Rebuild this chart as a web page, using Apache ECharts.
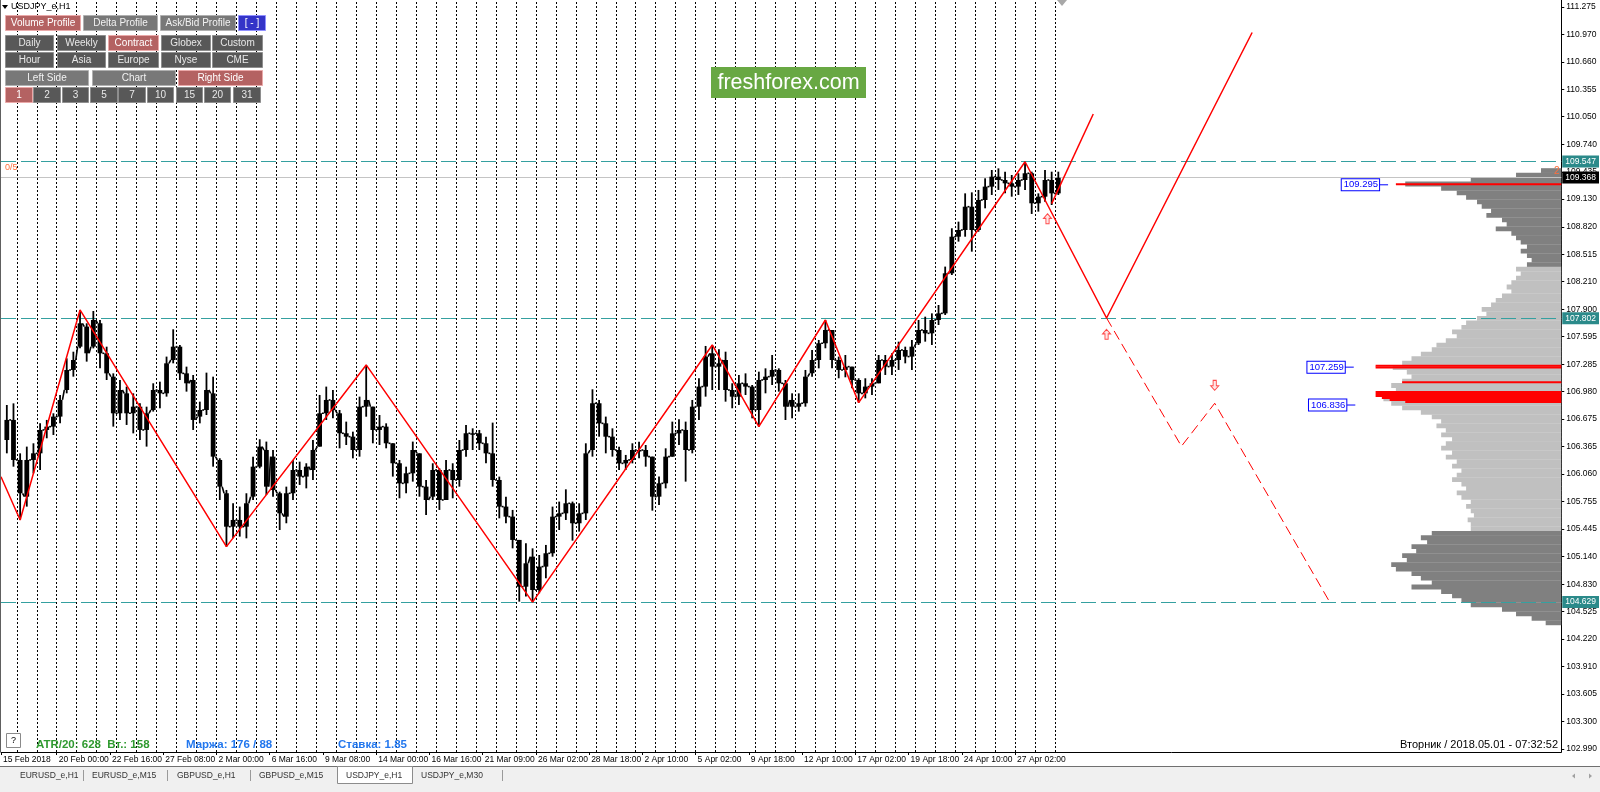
<!DOCTYPE html>
<html><head><meta charset="utf-8">
<script src="https://cdn.jsdelivr.net/npm/echarts@6.0.0/dist/echarts.min.js"></script>
<style>html,body{margin:0;padding:0;background:#fff;}#c{width:1600px;height:792px;}</style>
</head><body><div id="c"></div>
<script>
// ---------------- DATA ----------------
const priceTickLabels = ['102.990','103.300','103.605','103.910','104.220','104.525','104.830','105.140','105.445','105.755','106.060','106.365','106.675','106.980','107.285','107.595','107.900','108.210','108.515','108.820','109.130','109.435','109.740','110.050','110.355','110.660','110.970','111.275'];
const timeTickLabels = ['15 Feb 2018','20 Feb 00:00','22 Feb 16:00','27 Feb 08:00','2 Mar 00:00','6 Mar 16:00','9 Mar 08:00','14 Mar 00:00','16 Mar 16:00','21 Mar 09:00','26 Mar 02:00','28 Mar 18:00','2 Apr 10:00','5 Apr 02:00','9 Apr 18:00','12 Apr 10:00','17 Apr 02:00','19 Apr 18:00','24 Apr 10:00','27 Apr 02:00'];
const timeTickBars = [5,72,136,200,264,328,392,456,520,584,648,712,776,840,904,968,1032,1096,1160,1224];
const visibleBars = [5, 1880.6];
const tradingDays = 54;           // day separators every 24 bars
const barsPerDay = 24;

// candles: one candle per 8 H1 bars, first centred on bar 12
const firstSlotBar = 12, slotBars = 8;
const candleOpen = [106.440,106.664,106.217,105.807,106.217,106.291,106.552,106.589,106.701,106.998,
107.222,107.482,107.706,107.482,107.743,107.408,107.147,106.738,106.961,106.738,
106.812,106.552,106.775,106.998,106.961,107.333,107.482,107.184,107.110,106.701,
106.775,106.961,106.217,105.845,105.472,105.547,105.472,105.807,106.142,106.328,
106.254,105.845,105.584,105.845,106.105,106.031,106.105,106.366,106.738,106.887,
106.738,106.515,106.477,106.328,106.812,106.812,106.552,106.589,106.403,106.180,
105.956,106.068,106.291,105.919,105.807,106.105,105.770,106.105,105.993,106.328,
106.515,106.515,106.403,106.291,105.993,105.696,105.584,105.324,104.802,105.137,
104.765,105.026,105.175,105.584,105.621,105.733,105.510,105.621,106.328,106.850,
106.626,106.477,106.328,106.179,106.217,106.328,106.328,106.254,105.807,105.956,
106.254,106.514,106.552,106.328,106.812,107.036,107.408,107.259,107.333,106.998,
106.924,107.073,107.036,106.775,107.110,107.147,107.222,107.073,106.887,106.812,
106.850,107.185,107.333,107.520,107.668,107.333,107.222,107.259,107.110,106.961,
107.036,107.073,107.333,107.259,107.333,107.445,107.371,107.520,107.668,107.631,
107.780,107.854,108.301,108.710,108.785,109.045,108.785,109.120,109.269,109.380,
109.343,109.306,109.269,109.343,109.418,109.083,109.157,109.343,109.194];
const candleClose = [106.664,106.217,105.845,106.217,106.291,106.552,106.589,106.701,106.887,107.222,
107.333,107.743,107.408,107.780,107.408,107.184,106.738,106.998,106.738,106.812,
106.552,106.738,106.998,106.961,107.296,107.482,107.184,107.073,106.664,106.775,
106.998,106.254,105.919,105.472,105.547,105.472,105.733,106.142,106.366,105.919,
105.882,105.621,105.845,106.105,106.031,106.142,106.328,106.738,106.887,106.775,
106.515,106.477,106.328,106.812,106.887,106.552,106.589,106.403,106.180,105.956,
106.068,106.328,105.919,105.770,106.105,105.770,106.105,105.993,106.328,106.515,
106.515,106.403,106.291,105.993,105.696,105.584,105.324,104.802,105.063,104.765,
105.026,105.175,105.584,105.621,105.733,105.510,105.621,106.291,106.850,106.626,
106.477,106.328,106.179,106.217,106.328,106.328,106.254,105.807,105.956,106.254,
106.514,106.552,106.328,106.812,107.036,107.371,107.259,107.296,106.998,106.924,
107.073,107.036,106.775,107.110,107.147,107.222,107.073,106.812,106.812,106.850,
107.147,107.333,107.520,107.668,107.333,107.222,107.259,107.110,106.961,107.036,
107.073,107.333,107.259,107.333,107.445,107.371,107.482,107.668,107.631,107.780,
107.854,108.301,108.710,108.785,109.045,108.785,109.120,109.269,109.380,109.343,
109.306,109.269,109.343,109.418,109.083,109.157,109.343,109.194,109.368];
const candleLow = [106.291,106.142,105.547,105.696,106.068,106.105,106.459,106.496,106.626,106.961,
107.147,107.463,107.315,107.463,107.240,107.110,106.589,106.664,106.608,106.514,
106.440,106.366,106.757,106.794,106.924,107.296,107.110,106.980,106.552,106.626,
106.719,106.142,105.770,105.249,105.342,105.361,105.342,105.770,106.124,105.826,
105.807,105.435,105.510,105.770,105.938,105.900,105.993,106.366,106.663,106.682,
106.347,106.384,106.235,106.254,106.700,106.403,106.384,106.347,106.031,105.789,
105.845,105.975,105.807,105.603,105.770,105.659,105.770,105.789,105.919,106.254,
106.328,106.328,106.180,105.919,105.565,105.510,105.230,104.635,104.691,104.629,
104.728,104.896,105.137,105.435,105.547,105.316,105.417,105.547,106.254,106.477,
106.291,106.254,106.105,106.105,106.179,106.235,106.142,105.651,105.714,105.900,
106.254,106.384,105.975,106.291,106.663,106.924,106.998,106.998,106.868,106.794,
106.831,106.942,106.682,106.589,106.961,107.054,106.980,106.663,106.682,106.757,
106.812,107.147,107.240,107.464,107.240,107.129,107.140,107.017,106.857,106.905,
106.943,107.073,107.166,107.166,107.222,107.296,107.222,107.501,107.538,107.501,
107.724,107.836,108.282,108.655,108.710,108.543,108.766,109.027,109.176,109.232,
109.194,109.157,109.176,109.232,108.964,108.990,109.101,109.064,109.176];
const candleHigh = [106.831,106.849,106.291,106.366,106.403,106.626,106.664,106.738,106.943,107.352,
107.426,107.892,107.743,107.880,107.780,107.482,107.184,107.110,107.036,106.961,
106.849,106.812,107.073,107.091,107.371,107.676,107.501,107.259,107.166,106.868,
107.192,107.147,106.236,105.882,105.733,105.696,105.845,106.254,106.448,106.422,
106.328,105.863,105.919,106.217,106.198,106.180,106.440,106.943,107.036,106.998,
106.775,106.645,106.533,106.924,107.278,106.812,106.719,106.626,106.403,106.217,
106.142,106.422,106.291,105.993,106.180,106.124,106.217,106.180,106.440,106.608,
106.570,106.552,106.477,106.634,106.031,105.807,105.659,105.324,105.286,105.230,
105.156,105.268,105.696,105.752,105.889,105.752,105.733,106.403,107.006,106.887,
106.701,106.570,106.365,106.273,106.403,106.421,106.384,106.254,106.031,106.347,
106.645,106.671,106.645,106.887,107.129,107.490,107.501,107.452,107.426,107.073,
107.166,107.184,107.054,107.203,107.240,107.389,107.240,107.110,106.961,106.961,
107.222,107.445,107.557,107.780,107.668,107.371,107.389,107.259,107.129,107.129,
107.129,107.389,107.389,107.408,107.538,107.482,107.557,107.780,107.817,107.854,
107.947,108.376,108.804,108.878,109.194,109.205,109.232,109.362,109.455,109.473,
109.436,109.399,109.418,109.547,109.436,109.194,109.455,109.436,109.436];

// ZigZag vertices (bar index, price)
const zigzagBars   = [5, 28, 100, 276, 444, 644, 860, 916, 996, 1036, 1236];
const zigzagPrices = [106.03, 105.547, 107.892, 105.249, 107.278, 104.629, 107.501, 106.589, 107.780, 106.857, 109.547];
// projections
const projMainBars = [1236, 1334, 1509];
const projMainPrices = [109.547, 107.802, 110.99];
const projShortBars = [1268, 1318];
const projShortPrices = [109.08, 110.08];
const projDashBars = [1334, 1424, 1464, 1601];
const projDashPrices = [107.802, 106.37, 106.85, 104.65];
const upArrows = [[1263, 108.91], [1334, 107.62]];
const downArrows = [[1464, 107.05]];

// horizontal levels
const levelLabels = ['109.547', '107.802', '104.629'];
const bidLabel = '109.368';

// volume profile (price level, volume units)
const profileStep = 0.05;
const profilePrices = [109.45,109.40,109.35,109.30,109.25,109.20,109.15,109.10,109.05,109.00,108.95,108.90,108.85,108.80,108.75,108.70,108.65,108.60,108.55,108.50,108.45,108.40,108.35,108.30,108.25,108.20,108.15,108.10,108.05,108.00,107.95,107.90,107.85,107.80,107.75,107.70,107.65,107.60,107.55,107.50,107.45,107.40,107.35,107.30,107.25,107.20,107.15,107.10,107.05,107.00,106.95,106.90,106.85,106.80,106.75,106.70,106.65,106.60,106.55,106.50,106.45,106.40,106.35,106.30,106.25,106.20,106.15,106.10,106.05,106.00,105.95,105.90,105.85,105.80,105.75,105.70,105.65,105.60,105.55,105.50,105.45,105.40,105.35,105.30,105.25,105.20,105.15,105.10,105.05,105.00,104.95,104.90,104.85,104.80,104.75,104.70,104.65,104.60,104.55,104.50,104.45,104.40];
const profileVolumes = [13,29,58,100,77,67,61,54,51,45,48,38,35,42,32,29,26,22,26,22,19,22,29,26,29,32,35,32,38,42,45,51,48,54,61,64,70,67,74,80,83,90,96,102,108,99,96,102,109,106,112,114,109,102,90,83,77,80,74,77,70,74,77,70,74,67,70,64,67,70,64,61,67,64,58,61,58,56,60,58,58,83,90,86,96,93,102,99,109,106,96,90,83,96,77,70,64,58,38,29,19,10];
const valueAreaLow = 105.445, valueAreaHigh = 108.37;
const redLinePrices  = [109.295,107.270,107.250,107.085,106.975,106.953,106.931,106.909,106.887,106.865];
const redLineVolumes = [106,119,119,102,119,119,119,115,110,100];
const profileLabels = ['109.295', '107.259', '106.836'];
const profileLabelVolumes = [111, 133, 132];

// ---------------- CHART ----------------
const FONT = '"Liberation Sans", Arial, sans-serif';
const chart = echarts.init(document.getElementById('c'), null, {renderer: 'canvas'});

const candles = candleOpen.map((o, i) => [firstSlotBar + i * slotBars, o, candleClose[i], candleLow[i], candleHigh[i]]);
const zz = zigzagBars.map((b, i) => [b, zigzagPrices[i]]);
const projMain = projMainBars.map((b, i) => [b, projMainPrices[i]]);
const projShort = projShortBars.map((b, i) => [b, projShortPrices[i]]);
const projDash = projDashBars.map((b, i) => [b, projDashPrices[i]]);
const separators = [];
for (let d = 1; d < tradingDays; d++) separators.push({xAxis: d * barsPerDay});
const profileData = profilePrices.map((p, i) => [p, profileVolumes[i], (p > valueAreaHigh || p < valueAreaLow) ? 0 : 1]);
const redData = redLinePrices.map((p, i) => [p, redLineVolumes[i]]);
const labelData = profileLabels.map((t, i) => [Number(t), profileLabelVolumes[i]]);

// UI chrome (buttons etc.)
const btnStyles = {
  red:  {fill: '#b46262', stroke: '#eaa9a9', text: '#ffffff'},
  gray: {fill: '#787878', stroke: '#b0b0b0', text: '#f2f2f2'},
  dark: {fill: '#585858', stroke: '#8e8e8e', text: '#e8e8e8'},
  blue: {fill: '#3434c8', stroke: '#9090ff', text: '#ffffff'}
};
const buttons = [
  [5,15,75,15,'Volume Profile','red'],[83,15,74,15,'Delta Profile','gray'],[160,15,75,15,'Ask/Bid Profile','gray'],[238,15,27,15,'[ - ]','blue'],
  [5,35,48,15,'Daily','dark'],[57,35,48,15,'Weekly','dark'],[108,35,50,15,'Contract','red'],[161,35,49,15,'Globex','dark'],[212,35,50,15,'Custom','dark'],
  [5,52,48,15,'Hour','dark'],[57,52,48,15,'Asia','dark'],[108,52,50,15,'Europe','dark'],[161,52,49,15,'Nyse','dark'],[212,52,50,15,'CME','dark'],
  [5,70,83,15,'Left Side','gray'],[92,70,83,15,'Chart','gray'],[178,70,84,15,'Right Side','red'],
  [5,87,27,15,'1','red'],[33,87,27,15,'2','dark'],[62,87,26,15,'3','dark'],[90,87,27,15,'5','dark'],[118,87,27,15,'7','dark'],
  [147,87,26,15,'10','dark'],[176,87,26,15,'15','dark'],[204,87,26,15,'20','dark'],[233,87,27,15,'31','dark']
];
const graphics = [];
buttons.forEach(b => {
  const s = btnStyles[b[5]];
  graphics.push({type: 'rect', z: 100, shape: {x: b[0] + 0.5, y: b[1] + 0.5, width: b[2], height: b[3]}, style: {fill: s.fill, stroke: s.stroke, lineWidth: 1}});
  graphics.push({type: 'text', z: 101, x: b[0] + b[2] / 2 + 0.5, y: b[1] + b[3] / 2 + 1, style: {text: b[4], fill: s.text, font: '10px ' + FONT, align: 'center', verticalAlign: 'middle'}});
});
// title
graphics.push({type: 'polygon', z: 100, shape: {points: [[2, 5], [8, 5], [5, 9]]}, style: {fill: '#000'}});
graphics.push({type: 'text', z: 100, x: 11, y: 7, style: {text: 'USDJPY_e,H1', fill: '#000', font: '9px ' + FONT, verticalAlign: 'middle'}});
// brand
graphics.push({type: 'rect', z: 100, shape: {x: 711, y: 67, width: 155, height: 31}, style: {fill: '#68a843'}});
graphics.push({type: 'text', z: 101, x: 788.5, y: 83, style: {text: 'freshforex.com', fill: '#fff', font: '21.5px ' + FONT, align: 'center', verticalAlign: 'middle'}});
graphics.push({type: 'text', z: 100, x: 5, y: 168, style: {text: '0/5', fill: '#ff6f3c', font: '9px ' + FONT, verticalAlign: 'middle'}});
graphics.push({type: 'text', z: 100, x: 1554, y: 171, style: {text: '2', fill: '#ff6f3c', font: '10px ' + FONT, verticalAlign: 'middle'}});
// shift marker
graphics.push({type: 'polygon', z: 100, shape: {points: [[1057, 0], [1067, 0], [1062, 6]]}, style: {fill: '#a8a8a8'}});
// left border
graphics.push({type: 'line', z: 100, shape: {x1: 0.5, y1: 0, x2: 0.5, y2: 752}, style: {stroke: '#606060', lineWidth: 1}});
// status line
graphics.push({type: 'rect', z: 100, shape: {x: 6.5, y: 733.5, width: 14, height: 14}, style: {fill: '#fff', stroke: '#8a8a8a'}});
graphics.push({type: 'text', z: 101, x: 13.5, y: 741, style: {text: '?', fill: '#000', font: '9px ' + FONT, align: 'center', verticalAlign: 'middle'}});
graphics.push({type: 'text', z: 100, x: 36, y: 745, style: {text: 'ATR/20: 628  Вт.: 158', fill: '#2f9a2f', font: 'bold 11.5px ' + FONT, verticalAlign: 'middle'}});
graphics.push({type: 'text', z: 100, x: 186, y: 745, style: {text: 'Маржа: 176 / 88', fill: '#2277ee', font: 'bold 11.5px ' + FONT, verticalAlign: 'middle'}});
graphics.push({type: 'text', z: 100, x: 338, y: 745, style: {text: 'Ставка: 1.85', fill: '#2277ee', font: 'bold 11.5px ' + FONT, verticalAlign: 'middle'}});
graphics.push({type: 'text', z: 100, x: 1558, y: 745, style: {text: 'Вторник / 2018.05.01 - 07:32:52', fill: '#000', font: '11px ' + FONT, align: 'right', verticalAlign: 'middle'}});
// tab bar
graphics.push({type: 'rect', z: 100, shape: {x: 0, y: 766, width: 1600, height: 26}, style: {fill: '#f0f0f0'}});
graphics.push({type: 'line', z: 101, shape: {x1: 0, y1: 766.5, x2: 1600, y2: 766.5}, style: {stroke: '#707070', lineWidth: 1}});
graphics.push({type: 'rect', z: 101, shape: {x: 337.5, y: 766.5, width: 75, height: 17}, style: {fill: '#fff', stroke: '#8c8c8c'}});
const tabs = [[20,'EURUSD_e,H1'],[92,'EURUSD_e,M15'],[177,'GBPUSD_e,H1'],[259,'GBPUSD_e,M15'],[346,'USDJPY_e,H1'],[421,'USDJPY_e,M30']];
tabs.forEach(t => graphics.push({type: 'text', z: 102, x: t[0], y: 775.5, style: {text: t[1], fill: '#333', font: '8.5px ' + FONT, verticalAlign: 'middle'}}));
[83, 167, 250, 502].forEach(x => graphics.push({type: 'line', z: 102, shape: {x1: x + 0.5, y1: 770, x2: x + 0.5, y2: 781}, style: {stroke: '#9a9a9a'}}));
graphics.push({type: 'polygon', z: 102, shape: {points: [[1572, 776], [1575, 773.5], [1575, 778.5]]}, style: {fill: '#a0a0a0'}});
graphics.push({type: 'polygon', z: 102, shape: {points: [[1592, 776], [1589, 773.5], [1589, 778.5]]}, style: {fill: '#a0a0a0'}});

const axisFont = {fontFamily: FONT, fontSize: 8.5, color: '#000'};

chart.setOption({
  animation: false,
  backgroundColor: '#fff',
  grid: {left: 0, right: 37, top: 0, bottom: 40, containLabel: false},
  xAxis: [{
    type: 'value', min: visibleBars[0], max: visibleBars[1], position: 'bottom',
    axisLine: {show: true, lineStyle: {color: '#000', width: 1}},
    axisTick: {show: true, customValues: timeTickBars, length: 3, lineStyle: {color: '#000'}},
    axisLabel: Object.assign({show: true, customValues: timeTickBars, align: 'left', margin: 3, padding: [0, 0, 0, 2],
      formatter: v => { const i = timeTickBars.indexOf(v); return i >= 0 ? timeTickLabels[i] : ''; }}, axisFont),
    splitLine: {show: false}
  }, {
    type: 'value', min: 0, max: 1000, inverse: true, show: false
  }],
  yAxis: [{
    type: 'value', min: 102.956, max: 111.353, position: 'right',
    axisLine: {show: true, lineStyle: {color: '#000', width: 1}},
    axisTick: {show: true, customValues: priceTickLabels.map(Number), length: 3, lineStyle: {color: '#000'}},
    axisLabel: Object.assign({show: true, customValues: priceTickLabels.map(Number), margin: 5, formatter: v => v.toFixed(3)}, axisFont),
    splitLine: {show: false}
  }],
  graphic: graphics,
  series: [
    { // day separators
      type: 'line', data: zz, silent: true, showSymbol: false, lineStyle: {width: 0, opacity: 0}, z: 1,
      markLine: {silent: true, symbol: 'none', label: {show: false}, animation: false,
        lineStyle: {type: [2, 2], color: '#000', width: 1}, data: separators}
    },
    { // volume profile
      type: 'custom', xAxisIndex: 1, yAxisIndex: 0, z: 2, silent: true, data: profileData,
      renderItem: (params, api) => {
        const p = api.value(0), v = api.value(1), light = api.value(2);
        const a = api.coord([0, p + profileStep / 2]);
        const b = api.coord([v, p - profileStep / 2]);
        return {type: 'rect', shape: {x: b[0], y: a[1], width: a[0] - b[0], height: b[1] - a[1] + 0.3},
          style: {fill: light ? '#c0c0c0' : '#808080'}};
      }
    },
    { // red high-volume lines
      type: 'custom', xAxisIndex: 1, yAxisIndex: 0, z: 3, silent: true, data: redData,
      renderItem: (params, api) => {
        const a = api.coord([0, api.value(0) + 0.011]);
        const b = api.coord([api.value(1), api.value(0) - 0.011]);
        return {type: 'rect', shape: {x: b[0], y: a[1], width: a[0] - b[0], height: b[1] - a[1]}, style: {fill: '#ff0000'}};
      }
    },
    { // profile price labels
      type: 'custom', xAxisIndex: 1, yAxisIndex: 0, z: 6, silent: true, data: labelData,
      renderItem: (params, api) => {
        const pt = api.coord([api.value(1), api.value(0)]);
        return {type: 'group', children: [
          {type: 'line', shape: {x1: pt[0] - 9, y1: pt[1] + 0.5, x2: pt[0], y2: pt[1] + 0.5}, style: {stroke: '#0000ff', lineWidth: 1}},
          {type: 'text', x: pt[0] - 9, y: pt[1] + 0.5, style: {text: profileLabels[params.dataIndex], fill: '#0000ff', font: '9.5px ' + FONT,
            align: 'right', verticalAlign: 'middle', backgroundColor: '#fff', borderColor: '#0000ff', borderWidth: 1, padding: [1, 1, 0, 2]}}
        ]};
      }
    },
    { // horizontal levels
      type: 'line', data: [], z: 4, silent: true,
      markLine: {silent: true, symbol: 'none', animation: false,
        label: {show: true, position: 'end', distance: 1, color: '#fff', backgroundColor: '#2b8a8a', padding: [2, 3, 1, 3],
          fontFamily: FONT, fontSize: 8.5, formatter: '{b}'},
        lineStyle: {type: [15, 5], color: '#35a0a0', width: 1},
        data: levelLabels.map(t => ({yAxis: Number(t), name: t})).concat([{yAxis: Number(bidLabel), name: bidLabel,
          lineStyle: {type: 'solid', color: '#c4c4c4', width: 1},
          label: {backgroundColor: '#000', color: '#fff'}}])
      }
    },
    { // candles (with short connectors from the previous close to keep the price trace continuous)
      type: 'custom', z: 5, silent: true, data: candles,
      renderItem: (params, api) => {
        const i = params.dataIndex;
        const x = api.value(0);
        const o = api.coord([x, api.value(1)]), c = api.coord([x, api.value(2)]);
        const l = api.coord([x, api.value(3)]), h = api.coord([x, api.value(4)]);
        const bw = api.size([slotBars, 0])[0] * 0.72;
        const top = Math.min(o[1], c[1]), ht = Math.max(1.5, Math.abs(o[1] - c[1]));
        const children = [
          {type: 'line', shape: {x1: l[0], y1: l[1], x2: h[0], y2: h[1]}, style: {stroke: '#000', lineWidth: 1.8}},
          {type: 'rect', shape: {x: o[0] - bw / 2, y: top, width: bw, height: ht}, style: {fill: '#000'}}
        ];
        if (i > 0) {
          const prev = candles[i - 1];
          const pc = api.coord([prev[0], prev[2]]);
          children.push({type: 'line', shape: {x1: pc[0] + bw / 2, y1: pc[1], x2: o[0] - bw / 2, y2: o[1]}, style: {stroke: '#000', lineWidth: 1.6}});
        }
        return {type: 'group', children: children};
      }
    },
    {type: 'line', data: zz, z: 7, showSymbol: false, silent: true, lineStyle: {color: '#ff0000', width: 1.5}},
    {type: 'line', data: projMain, z: 7, showSymbol: false, silent: true, lineStyle: {color: '#ff0000', width: 1.5}},
    {type: 'line', data: projShort, z: 7, showSymbol: false, silent: true, lineStyle: {color: '#ff0000', width: 1.5}},
    {type: 'line', data: projDash, z: 7, showSymbol: false, silent: true, lineStyle: {color: '#ff0000', width: 1, type: [10, 5]}},
    {type: 'scatter', data: upArrows, z: 8, silent: true, symbol: 'path://M5,0 L10,5 L7,5 L7,11 L3,11 L3,5 L0,5 Z', symbolSize: [8, 10],
      itemStyle: {color: '#ffe0e0', borderColor: '#ff2020', borderWidth: 1}},
    {type: 'scatter', data: downArrows, z: 8, silent: true, symbol: 'path://M5,0 L10,5 L7,5 L7,11 L3,11 L3,5 L0,5 Z', symbolSize: [8, 10], symbolRotate: 180,
      itemStyle: {color: '#ffe0e0', borderColor: '#ff2020', borderWidth: 1}}
  ]
});
</script></body></html>
